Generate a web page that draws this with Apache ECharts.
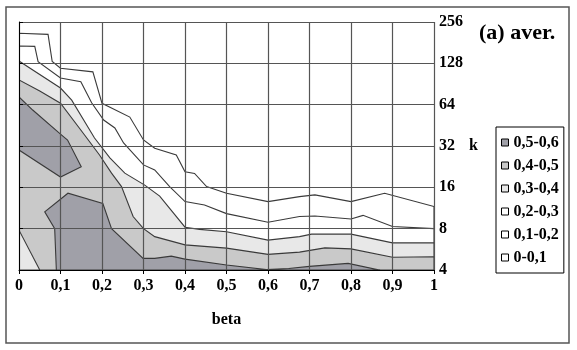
<!DOCTYPE html>
<html>
<head>
<meta charset="utf-8">
<script src="https://cdn.jsdelivr.net/npm/echarts@6/dist/echarts.min.js"></script>
<style>
  html, body { margin: 0; padding: 0; background: #fff; }
  #app { width: 577px; height: 350px; }
</style>
</head>
<body>
<div id="app"></div>
<script>
// contour lines, as [beta, k]
const contour01 = [[0, 212], [0.07, 208], [0.08, 132], [0.1, 118], [0.178, 111], [0.2, 65.5], [0.267, 52],
  [0.3, 35.4], [0.327, 30.8], [0.379, 27.5], [0.4, 20.8], [0.423, 20.2], [0.452, 16.2], [0.5, 14.5],
  [0.6, 12.6], [0.676, 13.7], [0.713, 14.1], [0.8, 12.6], [0.881, 14.5], [1, 11.6]]
const contour02 = [[0, 171], [0.038, 170], [0.046, 131.5], [0.1, 100], [0.149, 94], [0.175, 66], [0.204, 49.5],
  [0.231, 43.3], [0.252, 33.7], [0.3, 23.3], [0.327, 21.4], [0.363, 16.2], [0.4, 12.6], [0.447, 11.9],
  [0.5, 10.3], [0.6, 8.9], [0.676, 9.8], [0.713, 9.9], [0.8, 9.4], [0.829, 10], [0.9, 8.3], [1, 8]]
const contour03 = [[0, 133], [0.1, 84.6], [0.127, 69], [0.182, 36.6], [0.219, 26.2], [0.255, 20.3],
  [0.303, 16.6], [0.339, 13.8], [0.4, 8.2], [0.435, 7.9], [0.5, 7.6], [0.6, 6.6], [0.676, 7.0],
  [0.705, 7.3], [0.8, 7.3], [0.9, 6.3], [1, 6.3]]
const contour04 = [[0, 96.8], [0.05, 80.4], [0.1, 65.5], [0.158, 38.5], [0.194, 27.5], [0.223, 20.3],
  [0.247, 16.2], [0.275, 9.8], [0.3, 8.0], [0.327, 7.0], [0.4, 6.1], [0.5, 5.77], [0.6, 5.2],
  [0.676, 5.4], [0.737, 5.8], [0.8, 5.7], [0.9, 4.95], [1, 5.0]]
const cornerLow = [[0.05, 4], [0, 7.8]]
const peakTop = [[0, 72.8], [0.033, 58.5], [0.1, 39.1], [0.117, 35.4], [0.15, 22.6], [0.1, 19], [0, 29.9]]
const peakBottom = [[0.09, 4], [0.086, 8], [0.062, 10.6], [0.118, 14.5], [0.202, 12.2], [0.223, 8],
  [0.299, 4.86], [0.327, 4.86], [0.367, 5.05], [0.4, 4.8], [0.5, 4.35], [0.596, 4.03], [0.65, 4.1],
  [0.7, 4.25], [0.793, 4.47], [0.866, 4.01], [0.87, 4]]

const bandNames = ['0,5-0,6', '0,4-0,5', '0,3-0,4', '0,2-0,3', '0,1-0,2', '0-0,1']
const bandColors = ['#a0a0a8', '#c9c9c9', '#e8e8e8', '#ffffff', '#ffffff', '#ffffff']
const betaTicks = [0, 0.1, 0.2, 0.3, 0.4, 0.5, 0.6, 0.7, 0.8, 0.9, 1]
const kTicks = [4, 8, 16, 32, 64, 128, 256]

const FONT = 'Liberation Serif'

// region above each level, closed along the bottom of the plot
const bands = {
  '0,1-0,2': [contour01.concat([[1, 4], [0, 4]])],
  '0,2-0,3': [contour02.concat([[1, 4], [0, 4]])],
  '0,3-0,4': [contour03.concat([[1, 4], [0, 4]])],
  '0,4-0,5': [contour04.concat([[1, 4]], cornerLow)],
  '0,5-0,6': [peakTop, peakBottom],
  '0-0,1': []
}

function bandSeries (name) {
  const polys = bands[name]
  const color = bandColors[bandNames.indexOf(name)]
  return {
    name: name,
    type: 'custom',
    coordinateSystem: 'cartesian2d',
    clip: true,
    itemStyle: { color: color },
    data: polys.map(p => p[0]),
    renderItem: function (params, api) {
      const pts = polys[params.dataIndex].map(p => api.coord(p))
      return {
        type: 'polygon',
        shape: { points: pts },
        style: { fill: color, stroke: '#3a3a3a', lineWidth: 1.1 }
      }
    }
  }
}

const chart = echarts.init(document.getElementById('app'), null, { renderer: 'canvas' })
chart.setOption({
  animation: false,
  backgroundColor: '#fff',
  title: {
    text: '(a) aver.',
    left: 479, top: 22, padding: 0,
    textStyle: { fontFamily: FONT, fontWeight: 'bold', fontSize: 22, color: '#000' }
  },
  legend: {
    orient: 'vertical',
    left: 496, top: 127,
    padding: [7, 5, 7, 5],
    itemWidth: 7, itemHeight: 7, itemGap: 6,
    borderColor: '#000', borderWidth: 1,
    icon: 'rect',
    selectedMode: false,
    itemStyle: { borderColor: '#000', borderWidth: 1 },
    textStyle: { fontFamily: FONT, fontSize: 16, fontWeight: 'bold', color: '#000', lineHeight: 17 },
    data: bandNames.map((n, i) => ({ name: n, itemStyle: { color: bandColors[i] } }))
  },
  grid: { left: 19, right: 143, top: 22, bottom: 80 },
  xAxis: {
    type: 'value', min: betaTicks[0], max: betaTicks[betaTicks.length - 1], interval: 0.1,
    z: 10,
    name: 'beta', nameLocation: 'middle', nameGap: 42,
    nameTextStyle: { fontFamily: FONT, fontWeight: 'bold', fontSize: 16, color: '#000' },
    axisLine: { lineStyle: { color: '#000', width: 1 } },
    axisTick: { length: 4, lineStyle: { color: '#000' } },
    axisLabel: {
      margin: 8, fontFamily: FONT, fontWeight: 'bold', fontSize: 16, color: '#000',
      formatter: v => String(Math.round(v * 10) / 10).replace('.', ',')
    },
    splitLine: { show: true, lineStyle: { color: '#555', width: 1.2 } }
  },
  yAxis: {
    type: 'log', logBase: 2, min: kTicks[0], max: kTicks[kTicks.length - 1], splitNumber: 6,
    position: 'right',
    z: 10,
    name: 'k', nameLocation: 'middle', nameGap: 34, nameRotate: 0,
    nameTextStyle: { fontFamily: FONT, fontWeight: 'bold', fontSize: 16, color: '#000' },
    axisLine: { show: true, lineStyle: { color: '#000', width: 1 } },
    axisTick: { show: true, length: 4, lineStyle: { color: '#000' } },
    axisLabel: { margin: 5, fontFamily: FONT, fontWeight: 'bold', fontSize: 16, color: '#000' },
    splitLine: { show: true, lineStyle: { color: '#555', width: 1.2 } }
  },
  graphic: [{
    type: 'rect',
    shape: { x: 6, y: 7, width: 563, height: 336 },
    style: { fill: 'none', stroke: '#555', lineWidth: 1.5 },
    silent: true
  }],
  series: ['0-0,1', '0,1-0,2', '0,2-0,3', '0,3-0,4', '0,4-0,5', '0,5-0,6'].map(bandSeries)
})
</script>
</body>
</html>
